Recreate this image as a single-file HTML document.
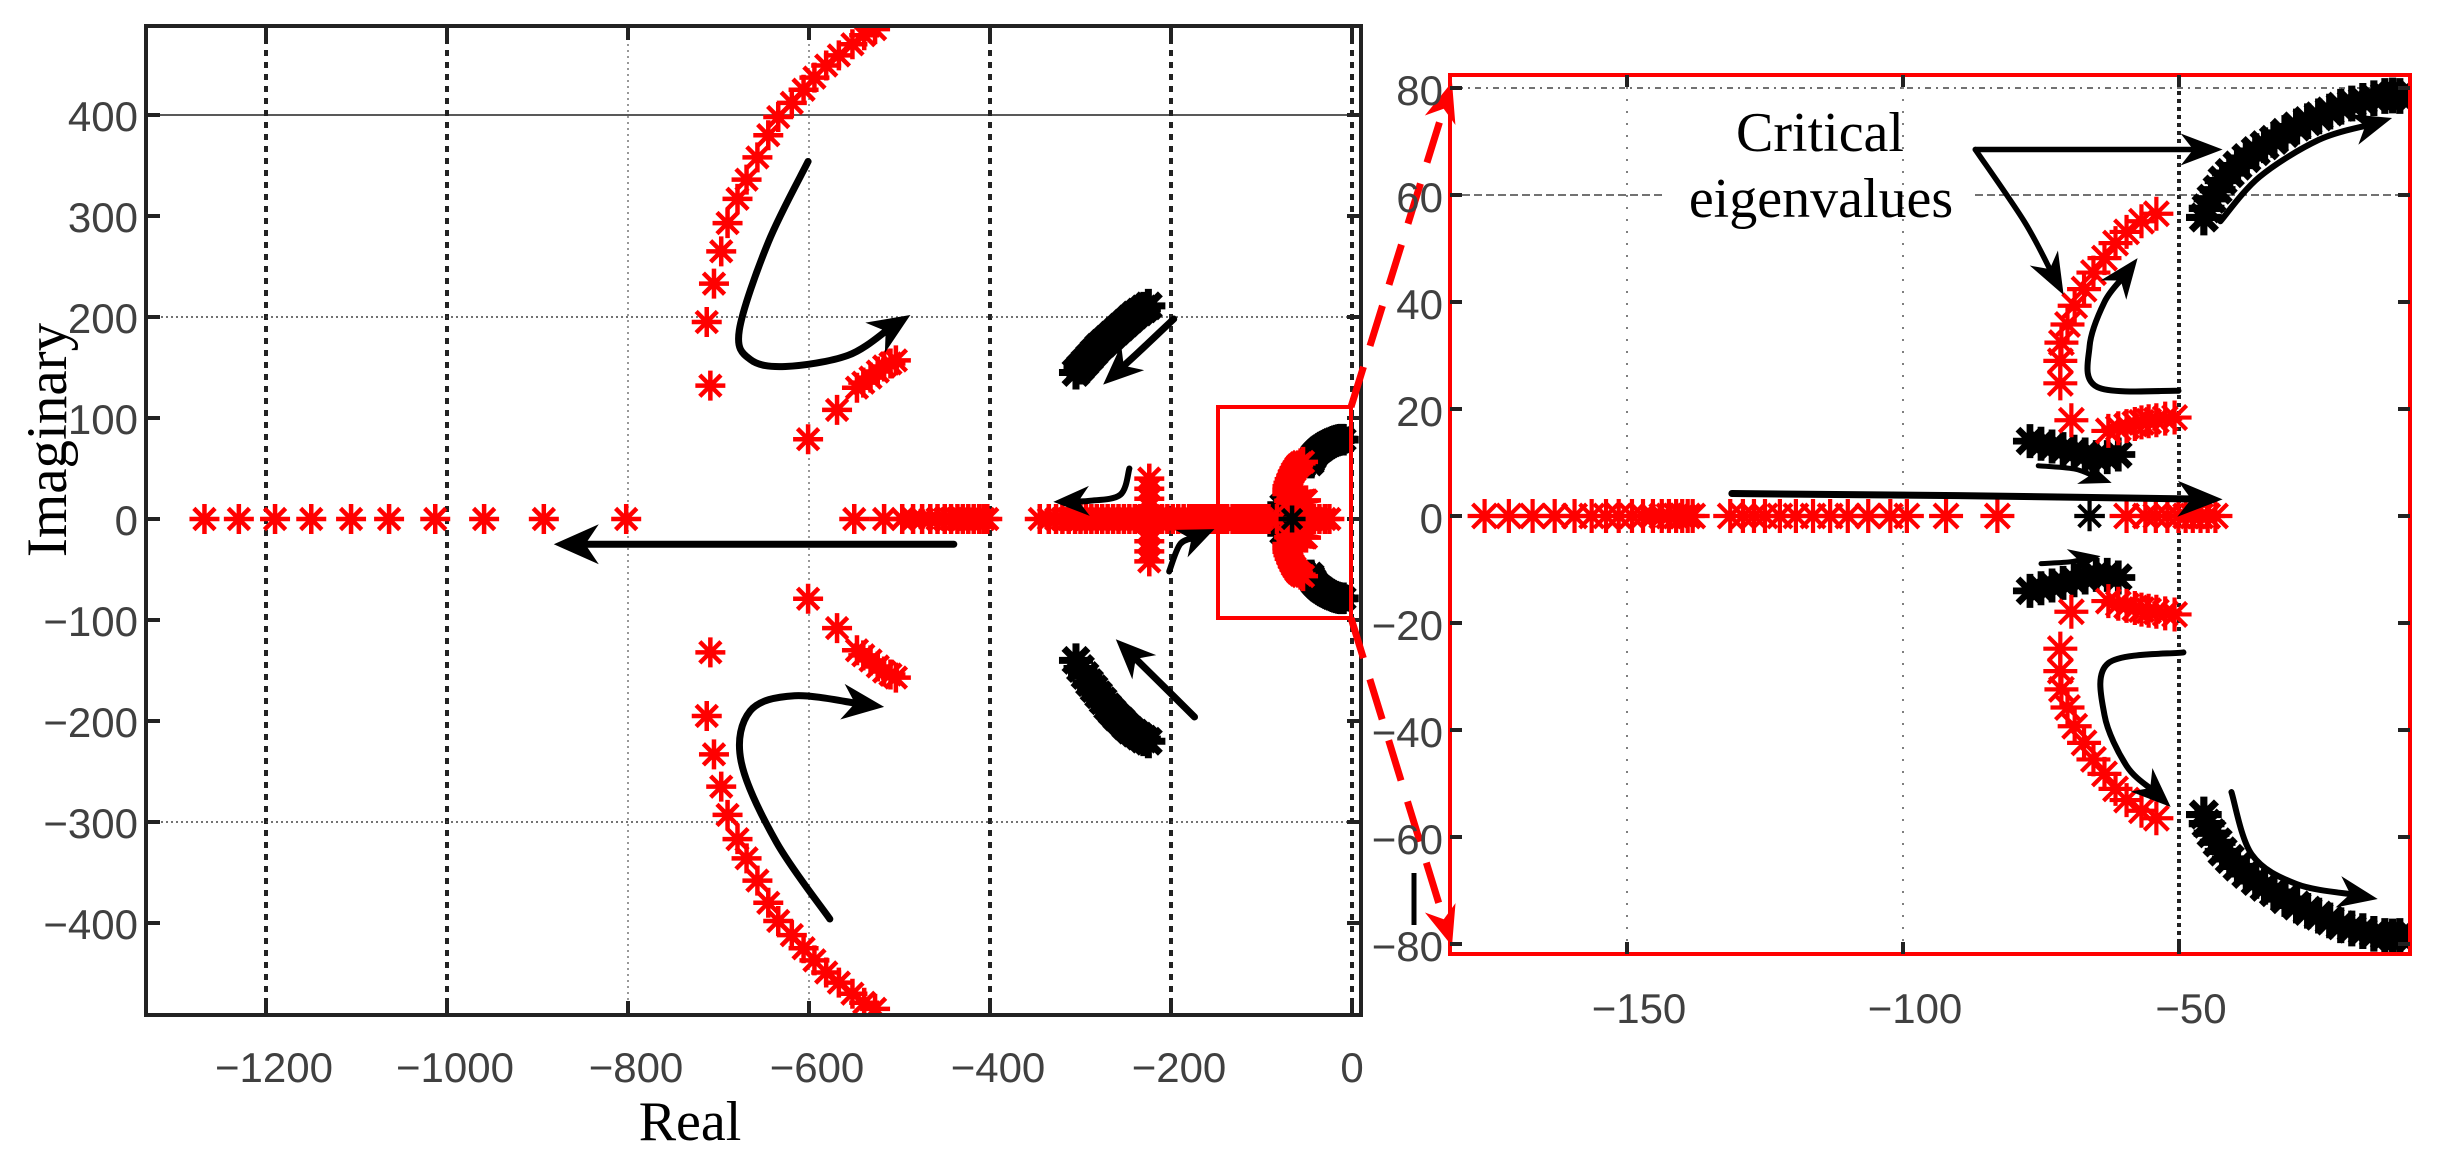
<!DOCTYPE html>
<html><head><meta charset="utf-8"><style>
html,body{margin:0;padding:0;background:#fff;}
svg{display:block;}
.tl{font-family:"Liberation Sans",Arial,sans-serif;font-size:42px;fill:#404040;}
.ser{font-family:"Liberation Serif","Times New Roman",serif;fill:#000;}
</style></head><body>
<svg id="fig" width="2459" height="1154" viewBox="0 0 2459 1154" xmlns="http://www.w3.org/2000/svg">
<defs>
<clipPath id="clipL"><rect x="146" y="26" width="1215" height="989"/></clipPath>
<clipPath id="clipR"><rect x="1450" y="75" width="960" height="879"/></clipPath>
</defs>
<g id="gridL"></g>
<g id="gridR"></g>
<g id="marksL" clip-path="url(#clipL)"></g>
<g id="marksR" clip-path="url(#clipR)"></g>
<g id="axesG"></g>
<text class="ser" x="690" y="1140" font-size="56" text-anchor="middle">Real</text>
<text class="ser" transform="translate(66,440) rotate(-90)" font-size="57" text-anchor="middle">Imaginary</text>
<text class="ser" x="1820" y="151" font-size="56" text-anchor="middle">Critical</text>
<text class="ser" x="1821" y="217" font-size="56" text-anchor="middle">eigenvalues</text>
</svg>
<script>
// ---------- data ----------
const xTicksL = [-1200,-1000,-800,-600,-400,-200,0];
const yTicksL = [-400,-300,-200,-100,0,100,200,300,400];
const xTicksR = [-150,-100,-50];
const yTicksR = [-80,-60,-40,-20,0,20,40,60,80];
const realAxisFar = [-1268,-1230,-1190,-1150,-1106,-1064,-1013,-959,-893,-802];
const realAxisMid = [-550,-517,-497,-485,-475,-466,-458,-450,-443,-436,-430,-424,-418,-412,-407,-403];
const realAxisNear = [-345,-335,-327,-320,-313,-306,-300,-294,-288,-282,-276,-270,-264,-258,-252,-246,-240,-234,-228,-222,-216,-210,-204,-198,-192,-186,-180,-174,-168,-162,-156,-150,-144,-138,-132,-126,-120,-114,-108,-102,-96,-90,-84,-78,-72,-66,-60,-54,-48,-42,-36,-30,-25];
const verticalRe = -224;
const verticalIm = [40,30,20,12,-12,-22,-32,-42];
const outerArcRe = [-709,-713,-705,-697,-690,-679,-669,-657,-645,-634,-619,-606,-594,-581,-567,-552,-539,-527];
const outerArcIm = [132,195,233,265,293,317,336,358,380,398,412,425,437,449,459,470,479,485];
const innerArcRe = [-601,-569,-547,-540,-532,-524,-517,-510,-504];
const innerArcIm = [79,108,130,135,140,146,151,154,157];
const blobUpRe = [-305,-300,-295,-290,-285,-280,-275,-270,-265,-260,-255,-250,-245,-240,-235,-230,-225];
const blobUpIm = [145,150,155,160,165,170,174,178,182,186,190,194,198,202,205,208,211];
const blobDnRe = [-305,-300,-295,-290,-285,-280,-275,-270,-265,-260,-255,-250,-245,-240,-235,-230,-225];
const blobDnIm = [-140,-148,-155,-162,-168,-174,-180,-186,-191,-196,-200,-205,-209,-212,-215,-218,-220];
// zoomed region data
const zAxisRe1 = [-175.8,-171.4,-167.1,-163.1,-159.5,-156.4,-153.8,-151.5,-149.1,-147.1,-145.3,-143.7,-142.4,-141.1,-140,-139,-138.1];
const zAxisRe2 = [-131.3,-129,-127,-125,-122.3,-119.4,-116.3,-113.2,-110,-106.3,-102.3,-99.3,-92.2,-82.9];
const zAxisRe3 = [-59.5,-56.1,-54.2,-52.1,-50.1,-48.8,-47.5,-46.1,-44.8,-43.4];
const zAxisBlack = [-66.2];
const zRedArcRe = [-69.5,-71.5,-71.5,-71.3,-70.2,-68.9,-67.2,-65.5,-63.5,-61.5,-59.5,-56.8,-54.1];
const zRedArcIm = [17.9,24.8,29,32.4,35.8,39.3,42.4,45.5,48.2,51,53.1,55.1,56.5];
const zRedBranchRe = [-62.8,-61,-59.5,-58,-56.8,-55.5,-54.1,-52.5,-50.8];
const zRedBranchIm = [15.9,16.4,16.8,17.2,17.5,17.7,17.9,18.2,18.4];
const zBlackArcRe = [-45.5,-45,-44.1,-43,-42.1,-40.8,-39.4,-37.8,-36.1,-34.5,-32.8,-30.8,-28.7,-26.7,-24.7,-22.7,-20.7,-18.7,-16.7,-14.7,-12.7,-11.3,-10];
const zBlackArcIm = [55.8,57.5,59.3,61,62.7,64.1,65.5,66.9,68.2,69.3,70.3,71.6,72.8,73.8,74.7,75.6,76.5,77.1,77.6,78.1,78.5,78.6,78.5];
const zBlackClusterRe = [-77,-75,-73,-71,-69,-67,-65,-63,-61];
const zBlackClusterIm = [14,13.5,13,12.5,12,11.5,11,11,11.5];

// ---------- scales ----------
const lx = v => 1352 + v*0.905;
const ly = v => 519 - v*1.01;
const rx = v => 1903 + (v+100)*5.52;
const ry = v => 516 - v*5.35;
const NS = "http://www.w3.org/2000/svg";
function mk(tag, attrs, parent){
  const e = document.createElementNS(NS, tag);
  for (const k in attrs) e.setAttribute(k, attrs[k]);
  parent.appendChild(e);
  return e;
}
function star(parent, x, y, r, color, sw){
  const d = r*0.7071;
  const p = mk('path', {d:`M${x-r} ${y}H${x+r}M${x} ${y-r}V${y+r}M${x-d} ${y-d}L${x+d} ${y+d}M${x-d} ${y+d}L${x+d} ${y-d}`, stroke:color, 'stroke-width':sw, fill:'none'}, parent);
  
  
  return p;
}
function crPath(pts){
  let d = `M${pts[0][0]} ${pts[0][1]}`;
  for (let i=0;i<pts.length-1;i++){
    const p0=pts[Math.max(0,i-1)], p1=pts[i], p2=pts[i+1], p3=pts[Math.min(pts.length-1,i+2)];
    const c1=[p1[0]+(p2[0]-p0[0])/6, p1[1]+(p2[1]-p0[1])/6];
    const c2=[p2[0]-(p3[0]-p1[0])/6, p2[1]-(p3[1]-p1[1])/6];
    d += `C${c1[0]} ${c1[1]} ${c2[0]} ${c2[1]} ${p2[0]} ${p2[1]}`;
  }
  return d;
}
function arrow(parent, pts, sw, L, W, color, name){
  const g = mk('g', {}, parent);
  
  
  const n = pts.length, t = pts[n-1], b = pts[n-2];
  let dx=t[0]-b[0], dy=t[1]-b[1]; const len=Math.hypot(dx,dy); dx/=len; dy/=len;
  const shaft = pts.slice(0,n-1).concat([[t[0]-dx*L*0.6, t[1]-dy*L*0.6]]);
  mk('path', {d: crPath(shaft), stroke:color, 'stroke-width':sw, fill:'none', 'stroke-linecap':'round'}, g);
  const px=-dy, py=dx;
  const bx=t[0]-dx*L, by=t[1]-dy*L;
  const nx=t[0]-dx*L*0.7, ny=t[1]-dy*L*0.7;
  mk('polygon', {points:`${t[0]},${t[1]} ${bx+px*W},${by+py*W} ${nx},${ny} ${bx-px*W},${by-py*W}`, fill:color}, g);
}

// ---------- grids ----------
const gridL = document.getElementById('gridL');
const gridR = document.getElementById('gridR');
const darkVL = [-1200,-1000,-400,-200,0];
xTicksL.forEach(v=>{
  const dark = darkVL.includes(v);
  const l = mk('line',{x1:lx(v),x2:lx(v),y1:26,y2:1015,stroke:dark?'#222':'#777','stroke-width':dark?4:1.5,'stroke-dasharray':dark?'6 6':'2 4'},gridL);
  
  
});
[[400,'solid'],[200,'dot'],[-300,'dot']].forEach(([v,s])=>{
  const l = mk('line',{x1:146,x2:1361,y1:ly(v),y2:ly(v),stroke:s==='solid'?'#222':'#444','stroke-width':1.5,'stroke-dasharray':s==='solid'?'none':'2 3'},gridL);
  
  
});
xTicksR.forEach(v=>{
  const dark = v===-50;
  const l = mk('line',{x1:rx(v),x2:rx(v),y1:75,y2:954,stroke:dark?'#222':'#555','stroke-width':dark?4:1.5,'stroke-dasharray':dark?'4 4':'2 10'},gridR);
  
  
});
{
  const l1 = mk('line',{x1:1450,x2:2410,y1:ry(80),y2:ry(80),stroke:'#444','stroke-width':1.5,'stroke-dasharray':'2 5 6 5'},gridR);
  
  
  const l2 = mk('line',{x1:1450,x2:1666,y1:ry(60),y2:ry(60),stroke:'#444','stroke-width':1.5,'stroke-dasharray':'8 4'},gridR);
  
  
  const l3 = mk('line',{x1:1975,x2:2410,y1:ry(60),y2:ry(60),stroke:'#444','stroke-width':1.5,'stroke-dasharray':'8 4'},gridR);
  
  
}

// ---------- marks ----------
function drawSet(parent, sx, sy, r, sw){
  const R='#ff0000', K='#000';
  const both = (re, im, col, rr, ww) => { re.forEach((v,i)=>{ star(parent,sx(v),sy(im[i]),rr,col,ww); star(parent,sx(v),sy(-im[i]),rr,col,ww); }); };
  both(zBlackArcRe, zBlackArcIm, K, r*1.05, sw*1.7);
  both(zBlackClusterRe, zBlackClusterIm, K, r, sw*1.6);
  both(zRedArcRe, zRedArcIm, R, r, sw);
  both(zRedBranchRe, zRedBranchIm, R, r, sw);
  zAxisRe1.concat(zAxisRe2, zAxisRe3).forEach(v=>star(parent,sx(v),sy(0),r,R,sw));
  zAxisBlack.forEach(v=>star(parent,sx(v),sy(0),r*0.9,K,sw));
}
const mL = document.getElementById('marksL');
const mR = document.getElementById('marksR');
const R='#ff0000', K='#000';
const RL = 15, SL = 4.5;
realAxisFar.concat(realAxisMid, realAxisNear).forEach(v=>star(mL,lx(v),ly(0),RL,R,SL));
verticalIm.forEach(v=>star(mL,lx(verticalRe),ly(v),RL,R,SL));
outerArcRe.forEach((v,i)=>{ star(mL,lx(v),ly(outerArcIm[i]),RL,R,SL); star(mL,lx(v),ly(-outerArcIm[i]),RL,R,SL); });
innerArcRe.forEach((v,i)=>{ star(mL,lx(v),ly(innerArcIm[i]),RL,R,SL); star(mL,lx(v),ly(-innerArcIm[i]),RL,R,SL); });
blobUpRe.forEach((v,i)=>star(mL,lx(v),ly(blobUpIm[i]),17,K,7));
blobDnRe.forEach((v,i)=>star(mL,lx(v),ly(blobDnIm[i]),17,K,7));
drawSet(mL, lx, ly, RL, SL);
drawSet(mR, rx, ry, 17, 4.2);

// arrows left
const P = (sx,sy,arr)=>arr.map(p=>[sx(p[0]),sy(p[1])]);
arrow(mL, P(lx,ly,[[-601,354],[-645,274],[-677,187],[-665,158],[-626,151],[-557,162],[-488,202]]), 7, 42, 18, K, 'trajectory-arrow-upper');
arrow(mL, P(lx,ly,[[-577,-396],[-636,-320],[-675,-240],[-665,-190],[-616,-175],[-517,-186]]), 7, 42, 18, K, 'trajectory-arrow-lower');
arrow(mL, P(lx,ly,[[-440,-25],[-660,-25],[-882,-25]]), 7, 45, 20, K, 'trajectory-arrow-real');
arrow(mL, P(lx,ly,[[-197,198],[-236,165],[-275,133]]), 7, 40, 17, K, 'trajectory-arrow-blob-upper');
arrow(mL, P(lx,ly,[[-174,-196],[-218,-157],[-261,-119]]), 7, 40, 17, K, 'trajectory-arrow-blob-lower');
arrow(mL, P(lx,ly,[[-246,50],[-256,24],[-290,18],[-330,17]]), 6, 36, 15, K, 'trajectory-arrow-small-upper');
arrow(mL, P(lx,ly,[[-202,-52],[-190,-25],[-152,-10]]), 6, 36, 15, K, 'trajectory-arrow-small-lower');
// arrows right
arrow(mR, P(rx,ry,[[-131,4.2],[-90,3.8],[-42.1,3.1]]), 7, 45, 18, K, 'trajectory-arrow-real-zoom');
arrow(mR, P(rx,ry,[[-86.9,68.5],[-60,68.5],[-42.1,68.5]]), 5.5, 42, 16, K, 'annotation-arrow-black');
arrow(mR, P(rx,ry,[[-86.9,68.5],[-78,55],[-70.9,41.3]]), 5.5, 42, 16, K, 'annotation-arrow-red');
arrow(mR, P(rx,ry,[[-50.1,23.4],[-64.8,24.1],[-66.2,31.7],[-63.5,40],[-57.5,48.2]]), 6, 40, 16, K, 'trajectory-arrow-zoom-upper');
arrow(mR, P(rx,ry,[[-49.2,-25.5],[-62.8,-27.5],[-63.5,-37.2],[-59.5,-46.7],[-51.5,-54.4]]), 6, 40, 16, K, 'trajectory-arrow-zoom-lower');
arrow(mR, P(rx,ry,[[-42.5,55.1],[-35.4,63.4],[-24.7,70.3],[-11.4,74.4]]), 6, 40, 16, K, 'trajectory-arrow-black-arc-upper');
arrow(mR, P(rx,ry,[[-40.5,-51.6],[-36.8,-63.3],[-28.7,-68.8],[-14,-71.6]]), 6, 40, 16, K, 'trajectory-arrow-black-arc-lower');
arrow(mR, P(rx,ry,[[-75.5,9.4],[-69,8.8],[-62.2,6.2]]), 5, 32, 13, K, 'trajectory-arrow-cluster-upper');
arrow(mR, P(rx,ry,[[-75,-8.9],[-70,-8.6],[-64.2,-7.5]]), 5, 32, 13, K, 'trajectory-arrow-cluster-lower');

// ---------- axes ----------
const ax = document.getElementById('axesG');
const frL = mk('rect',{x:146,y:26,width:1215,height:989,fill:'none',stroke:'#222','stroke-width':4},ax);


xTicksL.forEach(v=>{
  mk('line',{x1:lx(v),x2:lx(v),y1:1015,y2:1001,stroke:'#222','stroke-width':4},ax);
  mk('line',{x1:lx(v),x2:lx(v),y1:26,y2:40,stroke:'#222','stroke-width':4},ax);
  const t = mk('text',{x:lx(v)+(v<0?8:0),y:1082,'text-anchor':'middle',class:'tl'},ax);
  t.textContent = v<0 ? '\u2212'+Math.abs(v) : String(v);
  
  
});
yTicksL.forEach(v=>{
  mk('line',{x1:146,x2:160,y1:ly(v),y2:ly(v),stroke:'#222','stroke-width':4},ax);
  mk('line',{x1:1361,x2:1347,y1:ly(v),y2:ly(v),stroke:'#222','stroke-width':4},ax);
  const t = mk('text',{x:138,y:ly(v)+16,'text-anchor':'end',class:'tl'},ax);
  t.textContent = v<0 ? '\u2212'+Math.abs(v) : String(v);
  
  
});
const zb = mk('rect',{x:1218,y:407,width:133,height:211,fill:'none',stroke:'#ff0000','stroke-width':4},ax);


function dashArrow(x1,y1,x2,y2,name){
  const g = mk('g',{},ax);
  
  
  let dx=x2-x1, dy=y2-y1; const len=Math.hypot(dx,dy); dx/=len; dy/=len;
  const L=40, W=16;
  mk('line',{x1:x1,y1:y1,x2:x2-dx*L*0.7,y2:y2-dy*L*0.7,stroke:'#ff0000','stroke-width':7,'stroke-dasharray':'42 22'},g);
  const bx=x2-dx*L, by=y2-dy*L, px=-dy, py=dx;
  mk('polygon',{points:`${x2},${y2} ${bx+px*W},${by+py*W} ${x2-dx*L*0.7},${y2-dy*L*0.7} ${bx-px*W},${by-py*W}`,fill:'#ff0000'},g);
}
dashArrow(1351,407,1452,82,'zoom-connector-top');
dashArrow(1351,618,1452,946,'zoom-connector-bottom');
mk('line',{x1:1414,x2:1414,y1:873,y2:925,stroke:'#000','stroke-width':5},ax);
const frR = mk('rect',{x:1450,y:75,width:960,height:879,fill:'none',stroke:'#ff0000','stroke-width':4},ax);


xTicksR.forEach(v=>{
  mk('line',{x1:rx(v),x2:rx(v),y1:954,y2:942,stroke:'#222','stroke-width':4},ax);
  mk('line',{x1:rx(v),x2:rx(v),y1:75,y2:87,stroke:'#222','stroke-width':4},ax);
  const t = mk('text',{x:rx(v)+12,y:1023,'text-anchor':'middle',class:'tl'},ax);
  t.textContent = '\u2212'+Math.abs(v);
  
  
});
yTicksR.forEach(v=>{
  mk('line',{x1:1450,x2:1462,y1:ry(v),y2:ry(v),stroke:'#222','stroke-width':4},ax);
  mk('line',{x1:2410,x2:2398,y1:ry(v),y2:ry(v),stroke:'#222','stroke-width':4},ax);
  const t = mk('text',{x:1443,y:ry(v)+17,'text-anchor':'end',class:'tl'},ax);
  t.textContent = v<0 ? '\u2212'+Math.abs(v) : String(v);
  
  
});
</script>
</body></html>
